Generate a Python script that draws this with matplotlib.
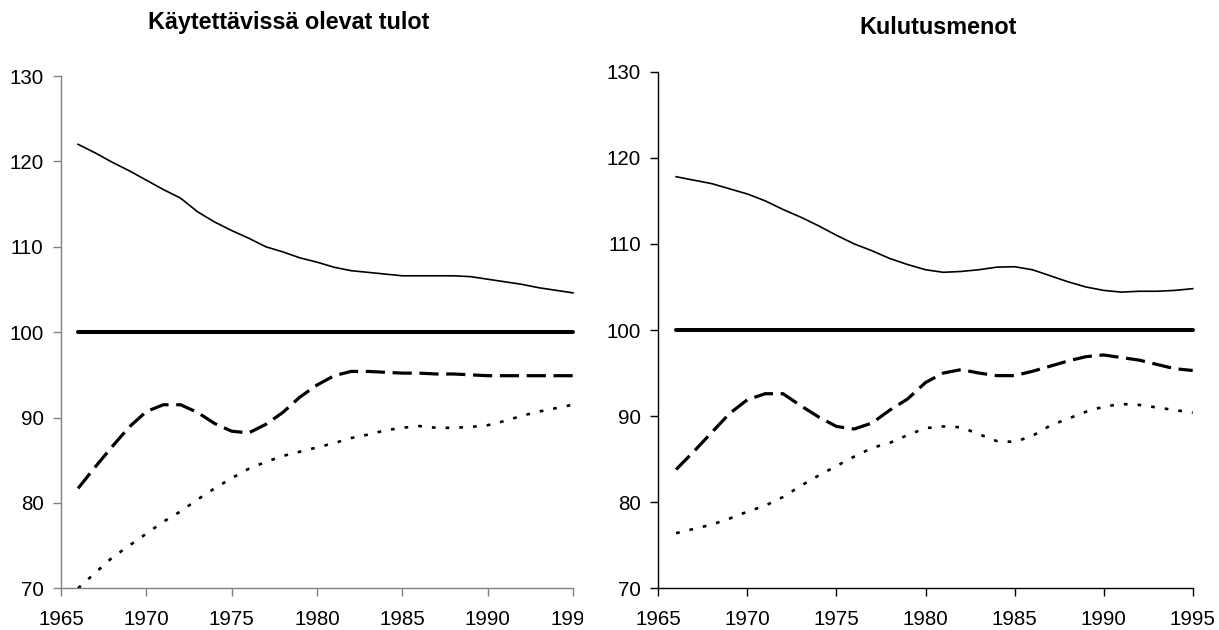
import matplotlib
matplotlib.use("Agg")
import matplotlib.pyplot as plt
from matplotlib.patches import Rectangle

# ── Data ────────────────────────────────────────────────────────────────────
YEARS = list(range(1966, 1996))

TITLE_LEFT = "Käytettävissä olevat tulot"
TITLE_RIGHT = "Kulutusmenot"

BASE = [100] * len(YEARS)

LEFT_SOLID = [122.0, 121.0, 119.9, 118.9, 117.8, 116.7, 115.7, 114.1, 112.9, 111.9,
              111.0, 110.0, 109.4, 108.7, 108.2, 107.6, 107.2, 107.0, 106.8, 106.6,
              106.6, 106.6, 106.6, 106.5, 106.2, 105.9, 105.6, 105.2, 104.9, 104.6]
LEFT_DASHED = [81.7, 84.2, 86.6, 88.9, 90.7, 91.5, 91.5, 90.6, 89.3, 88.4,
               88.2, 89.2, 90.6, 92.4, 93.8, 94.9, 95.4, 95.4, 95.3, 95.2,
               95.2, 95.1, 95.1, 95.0, 94.9, 94.9, 94.9, 94.9, 94.9, 94.9]
LEFT_DOTTED = [70.0, 71.8, 73.6, 75.0, 76.4, 77.8, 79.0, 80.4, 81.7, 82.9,
               84.0, 84.8, 85.5, 86.0, 86.5, 87.0, 87.6, 88.0, 88.5, 88.8,
               89.0, 88.8, 88.8, 88.9, 89.1, 89.6, 90.2, 90.7, 91.1, 91.5]

RIGHT_SOLID = [117.8, 117.4, 117.0, 116.4, 115.8, 115.0, 114.0, 113.1, 112.1, 111.0,
               110.0, 109.2, 108.3, 107.6, 107.0, 106.7, 106.8, 107.0, 107.3, 107.35,
               107.0, 106.3, 105.6, 105.0, 104.6, 104.4, 104.5, 104.5, 104.6, 104.8]
RIGHT_DASHED = [83.8, 85.9, 88.1, 90.3, 91.9, 92.6, 92.6, 91.2, 89.9, 88.8,
                88.5, 89.2, 90.7, 92.0, 93.9, 95.0, 95.4, 95.0, 94.7, 94.7,
                95.2, 95.8, 96.4, 96.9, 97.1, 96.8, 96.5, 96.0, 95.5, 95.3]
RIGHT_DOTTED = [76.4, 76.9, 77.4, 78.1, 78.9, 79.6, 80.6, 81.9, 83.1, 84.2,
                85.3, 86.3, 86.9, 87.8, 88.6, 88.8, 88.7, 87.9, 87.1, 87.0,
                87.7, 88.9, 89.7, 90.5, 91.1, 91.4, 91.3, 91.0, 90.7, 90.4]

X_TICKS = [1965, 1970, 1975, 1980, 1985, 1990, 1995]
Y_TICKS = [70, 80, 90, 100, 110, 120, 130]

# ── Figure ──────────────────────────────────────────────────────────────────
W, H = 1219, 630
plt.rcParams["font.family"] = ["Liberation Sans", "DejaVu Sans"]

fig = plt.figure(figsize=(W / 100, H / 100), dpi=100)
ax1 = fig.add_axes([61 / W, 1 - 588.3 / H, 512 / W, (588.3 - 76) / H])
ax2 = fig.add_axes([658.3 / W, 1 - 588.3 / H, 534.4 / W, (588.3 - 71.7) / H])


def draw_panel(ax, solid, dashed, dotted, axis_color):
    ax.plot(YEARS, solid, color="black", lw=1.2, clip_on=False)
    ax.plot(YEARS, BASE, color="black", lw=2.9, solid_capstyle="round", clip_on=False)
    ax.plot(YEARS, dashed, color="black", lw=2.3, dashes=(6, 2.4), clip_on=False)
    ax.plot(YEARS, dotted, color="black", lw=1.9, dashes=(1.4, 3.8), clip_on=False)

    ax.set_xlim(1965, 1995)
    ax.set_ylim(70, 130)
    ax.set_xticks(X_TICKS)
    ax.set_yticks(Y_TICKS)
    for side in ("top", "right"):
        ax.spines[side].set_visible(False)
    for side in ("left", "bottom"):
        ax.spines[side].set_color(axis_color)
        ax.spines[side].set_linewidth(1.0)
    ax.tick_params(axis="both", direction="out", length=5.5, width=1.0,
                   color=axis_color, labelsize=14.8, labelcolor="black")
    ax.tick_params(axis="x", pad=10)
    ax.tick_params(axis="y", pad=7)


draw_panel(ax1, LEFT_SOLID, LEFT_DASHED, LEFT_DOTTED, "#808080")
draw_panel(ax2, RIGHT_SOLID, RIGHT_DASHED, RIGHT_DOTTED, "black")

fig.text(289 / W, 1 - 23 / H, TITLE_LEFT, ha="center", va="center",
         fontsize=16.8, fontweight="bold")
fig.text(938 / W, 1 - 27 / H, TITLE_RIGHT, ha="center", va="center",
         fontsize=16.8, fontweight="bold")

# the left panel is cut off just after its last axis tick, so its "1995" is clipped
clip = Rectangle((0, 0), 582.7 / W, 1, transform=fig.transFigure)
for lbl in ax1.get_xticklabels():
    lbl.set_clip_path(clip)
    lbl.set_clip_on(True)

fig.savefig("out.png", dpi=100, facecolor="white")
